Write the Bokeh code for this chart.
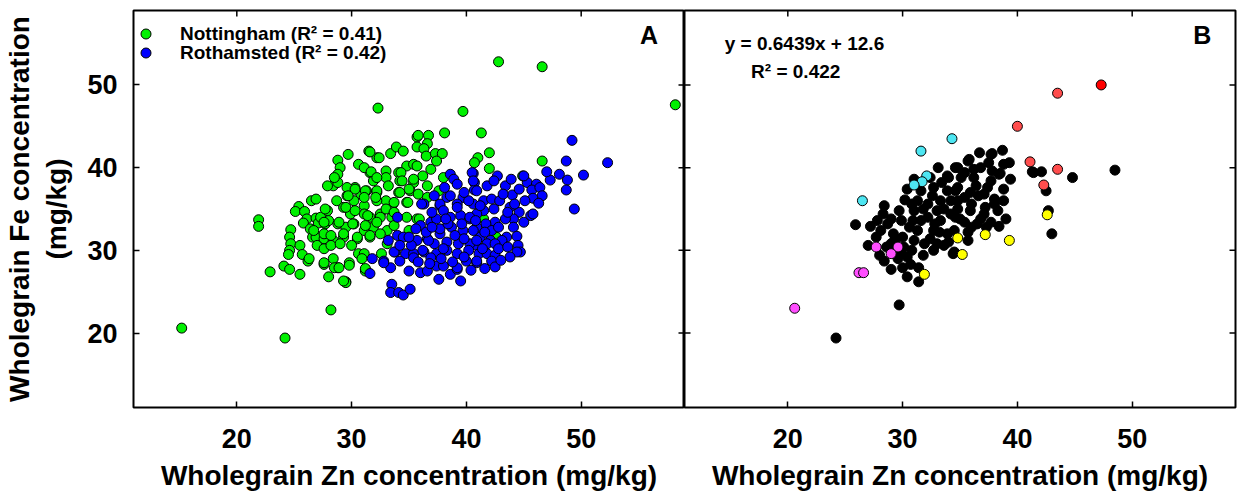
import math
from bokeh.plotting import figure
from bokeh.models import Range1d, FixedTicker, LinearAxis, Label, Legend, LegendItem
from bokeh.layouts import row
from bokeh.embed import file_html
from bokeh.resources import INLINE

FONT = "Liberation Sans"
TICKS = [20, 30, 40, 50]
X_MIN, X_MAX = 11, 59
Y_MIN, Y_MAX = 11, 59
X_LABEL = "Wholegrain Zn concentration (mg/kg)"
Y_LABEL = "Wholegrain Fe concentration\n(mg/kg)"

# ---------------- Panel A : Nottingham (green) ----------------
notts_zn = [15.2, 24.2, 28.2, 42.8, 46.6, 58.2, 32.3, 39.7, 38.1, 41.3, 42.0, 41.0, 40.7, 42.0, 46.6, 44.9, 41.5, 42.6,
            21.9, 21.9, 22.9, 24.1, 24.6, 25.5, 24.7, 24.6, 24.7, 24.6, 24.5, 25.5, 25.7, 26.2, 26.3, 27.6, 28.0, 25.4,
            25.1, 25.9, 26.1, 25.8, 26.5, 26.9, 26.9, 27.1, 26.4, 26.6, 26.9, 27.0, 27.6, 27.6, 27.9, 27.7, 28.4, 28.8,
            29.8, 29.5, 31.2, 29.7, 30.6, 31.5, 32.2, 33.4, 33.9, 34.5, 35.7, 35.7, 28.8, 29.0, 28.8, 28.4, 28.8, 30.3,
            30.8, 31.3, 31.6, 31.9, 32.2, 33.0, 33.0, 33.2, 34.1, 34.2, 34.8, 35.4, 35.1, 34.1, 35.4, 34.8, 33.6, 33.0,
            32.2, 31.1, 30.2, 29.6, 29.3, 29.9, 31.1, 31.6, 32.5, 33.5, 34.8, 35.7, 27.3, 28.0, 28.8, 29.5, 30.2, 31.1,
            31.9, 33.1, 26.7, 27.6, 28.4, 29.3, 30.5, 31.6, 35.8, 36.7, 36.6, 31.6, 36.3, 36.5, 37.3, 37.9, 32.4, 31.1,
            35.7, 36.2, 36.9, 37.4, 38.0, 37.6, 36.6, 27.9, 35.0, 35.8, 36.6, 35.9, 33.7, 35.0, 33.1, 30.6, 32.6, 27.6,
            28.5, 31.2, 31.7, 34.3, 28.5, 32.2, 34.4, 35.4, 29.6, 30.3, 31.2, 32.2, 34.2, 33.7, 34.9, 33.0, 32.1, 31.1,
            29.7, 28.7, 27.7, 29.5, 30.3, 31.4, 32.5, 33.7, 27.6, 28.9, 30.1, 31.2, 32.2, 28.2, 29.3, 30.5, 31.6, 32.5,
            28.2, 29.0, 30.0, 31.1, 28.9, 29.5, 31.2, 29.3, 29.8, 30.9]
notts_fe = [20.6, 19.4, 22.8, 52.8, 52.2, 47.6, 47.2, 46.8, 44.2, 44.2, 41.8, 41.2, 40.6, 39.9, 40.8, 39.0, 33.8, 31.6,
            33.7, 32.9, 27.4, 28.1, 27.7, 27.1, 32.5, 31.6, 30.8, 30.0, 29.5, 30.6, 29.5, 28.7, 29.0, 28.3, 26.8, 35.3,
            34.7, 34.7, 33.8, 33.3, 36.0, 36.2, 33.9, 33.3, 32.6, 31.6, 31.6, 30.6, 30.2, 31.4, 34.8, 33.2, 29.0, 27.9,
            28.5, 26.2, 27.7, 41.6, 40.4, 42.0, 41.2, 41.7, 42.5, 42.0, 43.7, 42.5, 40.9, 40.0, 39.2, 37.8, 38.2, 37.6,
            36.8, 37.2, 39.4, 38.4, 37.0, 39.6, 38.8, 37.8, 39.4, 38.4, 40.2, 40.4, 37.2, 37.0, 38.2, 35.8, 35.6, 36.0,
            36.0, 35.4, 36.0, 36.6, 35.2, 34.4, 34.4, 34.0, 34.4, 34.0, 34.0, 33.8, 34.0, 33.6, 33.2, 32.8, 33.2, 32.4,
            32.8, 32.4, 32.4, 32.0, 31.2, 31.6, 31.4, 31.6, 43.9, 43.9, 42.9, 41.9, 42.3, 41.4, 41.7, 41.7, 41.2, 40.0,
            40.2, 39.0, 39.8, 40.8, 38.8, 37.2, 37.8, 37.8, 37.4, 36.8, 36.4, 33.8, 33.0, 32.4, 30.8, 29.6, 29.6, 28.5,
            27.9, 27.5, 39.5, 39.4, 38.8, 38.8, 38.4, 38.6, 37.6, 37.4, 37.2, 37.2, 37.0, 35.8, 35.8, 35.0, 36.4, 36.4,
            36.6, 36.0, 35.0, 35.2, 34.8, 34.2, 34.0, 34.6, 33.4, 33.4, 33.2, 33.0, 33.4, 31.8, 32.0, 31.6, 31.8, 32.0,
            30.6, 30.8, 30.6, 29.6, 27.9, 26.1, 27.8, 26.3, 28.2, 29.0]

# ---------------- Panel A : Rothamsted (blue) ----------------
roth_zn = [49.2, 48.7, 52.3, 50.2, 48.1, 47.3, 48.8, 48.7, 49.4, 45.3, 46.1, 45.7, 46.4, 46.6, 45.8, 45.1, 46.3, 44.0,
           43.4, 42.7, 40.6, 40.7, 40.7, 41.5, 42.2, 42.9, 43.8, 42.4, 41.5, 40.6, 44.6, 45.6, 45.0, 44.1, 43.4, 42.5,
           41.7, 40.9, 44.1, 44.4, 43.5, 43.1, 42.2, 42.1, 41.2, 40.9, 41.8, 42.5, 44.5, 44.7, 44.4, 41.1, 41.8, 42.5,
           40.9, 42.2, 42.5, 45.8, 38.6, 38.9, 40.5, 40.6, 40.9, 38.1, 39.7, 38.3, 39.2, 40.2, 36.3, 37.7, 34.0, 36.9,
           37.4, 38.6, 39.5, 40.3, 40.9, 37.7, 38.7, 39.7, 40.6, 34.0, 34.5, 35.7, 36.6, 37.2, 38.3, 39.3, 40.3, 40.9,
           33.8, 34.7, 35.4, 36.3, 37.4, 38.3, 39.2, 40.0, 40.9, 31.8, 32.8, 33.4, 34.2, 35.0, 36.0, 36.6, 37.6, 37.4,
           38.6, 39.2, 39.5, 31.6, 33.5, 33.4, 34.1, 34.5, 35.1, 35.4, 36.9, 38.0, 39.2, 36.7, 37.7, 39.2, 40.3, 32.8,
           33.7, 36.1, 37.7, 36.0, 36.5, 37.0, 38.0, 38.4, 39.0, 39.8, 40.2, 41.4, 42.8, 43.6, 43.8, 43.0, 41.6, 40.4,
           39.8, 38.8, 37.8, 36.8, 35.8, 35.2, 35.0, 35.6, 37.0, 38.2, 39.6, 40.8, 41.6, 42.8, 43.6, 44.2, 41.2, 39.8,
           39.2, 41.8, 42.4, 43.2, 44.6, 43.9, 45.0, 47.0, 38.0, 36.2, 34.2, 33.2, 37.2, 38.6]
roth_fe = [43.3, 40.8, 40.6, 39.1, 39.2, 38.5, 38.5, 37.3, 35.0, 38.2, 38.0, 37.3, 37.6, 36.6, 36.3, 36.0, 35.7, 36.7,
           37.8, 39.0, 39.3, 38.2, 37.3, 36.0, 36.2, 36.0, 35.2, 35.0, 34.8, 35.6, 34.6, 34.2, 33.4, 33.8, 33.8, 33.4,
           33.2, 32.8, 32.8, 31.7, 31.6, 31.2, 32.4, 31.2, 31.6, 30.6, 30.8, 30.8, 30.6, 29.8, 29.8, 29.6, 29.6, 29.4,
           28.5, 28.7, 28.0, 34.4, 39.2, 38.6, 39.4, 38.4, 37.2, 37.6, 36.4, 36.4, 35.6, 36.0, 35.6, 35.4, 34.0, 33.4,
           33.8, 34.0, 34.2, 33.8, 34.4, 32.0, 32.8, 32.4, 32.4, 31.8, 31.6, 31.2, 31.4, 30.8, 31.0, 30.8, 30.8, 31.2,
           29.8, 29.6, 29.6, 29.8, 29.6, 30.0, 29.6, 28.7, 28.7, 29.0, 28.7, 27.9, 28.7, 27.5, 27.3, 27.5, 26.5, 28.1,
           27.1, 27.7, 26.3, 27.2, 25.9, 24.9, 24.9, 24.6, 25.3, 29.1, 29.1, 28.1, 27.9, 31.2, 32.6, 35.2, 34.0, 28.5,
           29.8, 35.6, 35.6, 33.0, 32.2, 34.6, 34.8, 33.2, 31.8, 31.4, 30.0, 30.2, 30.2, 30.4, 29.2, 28.8, 27.8, 27.6,
           29.2, 28.6, 29.0, 28.4, 28.6, 30.6, 31.6, 32.6, 32.8, 33.8, 33.2, 33.6, 32.2, 32.8, 34.6, 35.6, 35.4, 37.0,
           38.0, 37.8, 38.4, 36.8, 37.4, 38.6, 39.0, 39.5, 30.2, 30.0, 30.6, 31.2, 36.6, 36.6]

# ---------------- Panel B ----------------
blk_zn = [48.5, 44.8, 41.4, 42.1, 41.3, 42.5, 42.7, 43.0, 34.4, 35.7, 25.9, 27.2, 28.3, 30.2, 33.1, 33.9, 36.7, 37.7,
          38.7, 39.3, 38.5, 39.4, 35.7, 34.6, 38.3, 39.0, 38.4, 37.8, 35.8, 37.5, 38.4, 36.8, 34.8, 35.1, 36.2, 37.7,
          35.9, 37.1, 38.0, 34.8, 35.9, 37.1, 34.6, 35.4, 36.5, 37.7, 34.5, 35.7, 37.3, 38.8, 27.7, 28.1, 28.7, 28.0,
          28.4, 29.0, 30.0, 30.7, 31.4, 31.4, 29.7, 24.2, 29.9, 30.4, 30.1, 29.3, 29.9, 29.7, 31.0, 30.9, 31.3, 31.0,
          31.9, 32.7, 33.6, 34.5, 32.2, 33.3, 32.2, 33.3, 34.2, 32.7, 33.9, 31.6, 32.7, 33.9, 34.8, 31.3, 33.0, 30.8,
          31.8, 32.6, 33.4, 34.0, 34.6, 35.4, 36.0, 36.6, 37.4, 36.2, 35.4, 34.2, 33.6, 32.8, 31.6, 30.6, 30.0, 29.2,
          28.6, 30.8, 31.8, 32.4, 33.2, 34.0, 35.0, 36.0, 36.8, 37.2, 38.0, 38.8, 37.8, 38.8, 36.4, 34.8, 33.0, 30.4,
          31.0, 32.4, 29.0, 28.4, 29.6, 27.0, 27.8, 30.4, 29.0]
blk_fe = [39.7, 38.8, 39.4, 39.5, 39.5, 37.2, 34.8, 32.0, 29.6, 31.2, 33.1, 32.9, 34.4, 36.1, 40.0, 39.0, 41.8, 41.6,
          42.1, 40.6, 39.3, 38.6, 40.8, 40.0, 34.8, 33.8, 32.9, 41.7, 41.0, 40.6, 39.2, 40.0, 40.0, 38.8, 38.8, 38.4,
          37.0, 36.8, 35.6, 36.0, 34.8, 34.4, 34.0, 33.4, 33.2, 33.4, 32.4, 32.2, 32.8, 37.4, 31.6, 32.4, 33.2, 29.4,
          28.7, 27.7, 27.9, 28.3, 27.9, 26.2, 23.4, 19.4, 29.6, 29.2, 30.4, 31.2, 33.6, 34.8, 34.8, 33.6, 32.4, 31.2,
          30.8, 30.0, 30.6, 29.8, 35.6, 36.0, 34.0, 33.6, 34.4, 32.4, 32.0, 37.2, 37.6, 37.2, 37.6, 36.0, 34.8, 35.6,
          35.0, 36.6, 38.2, 38.8, 37.2, 36.4, 35.6, 36.6, 37.6, 39.8, 39.4, 36.0, 35.0, 33.2, 33.6, 32.8, 31.6, 32.0,
          30.4, 30.0, 29.4, 31.4, 32.2, 31.0, 33.8, 32.8, 33.8, 35.2, 36.2, 36.0, 39.6, 40.4, 37.8, 35.0, 30.8, 37.4,
          38.6, 38.8, 33.8, 35.4, 29.0, 30.6, 33.6, 26.8, 30.8]
cyan_zn = [34.3, 31.6, 32.1, 31.7, 31.0, 26.5]
cyan_fe = [43.5, 42.0, 39.0, 38.3, 37.9, 36.0]
mag_zn = [27.7, 29.6, 29.0, 26.2, 26.6, 20.6]
mag_fe = [30.4, 30.4, 29.6, 27.3, 27.3, 23.0]
yel_zn = [42.6, 39.3, 37.2, 34.8, 35.2, 31.9]
yel_fe = [34.3, 31.2, 31.9, 31.5, 29.5, 27.1]
red_zn = [43.5, 40.0, 41.1, 43.5, 42.3]
red_fe = [49.0, 45.0, 40.7, 39.8, 37.9]
top_red_zn = [47.3]
top_red_fe = [50.0]

FRAME_H = 397            # frame height in px
TOP_B = 10               # top border in px
FIG_H = 500
yr = Range1d(Y_MIN, Y_MAX)
N = len(TICKS)


def style_axis(ax, tick_standoff):
    ax.ticker = FixedTicker(ticks=TICKS)
    ax.major_tick_in = 6
    ax.major_tick_out = 0
    ax.minor_tick_line_color = None
    ax.axis_line_color = None
    ax.major_tick_line_color = "black"
    ax.major_tick_line_width = 1.5
    ax.major_label_text_font = FONT
    ax.major_label_text_font_size = "27px"
    ax.major_label_text_font_style = "bold"
    ax.major_label_text_color = "black"
    ax.major_label_standoff = tick_standoff
    ax.axis_label_text_font = FONT
    ax.axis_label_text_font_size = "28px"
    ax.axis_label_text_font_style = "bold"
    ax.axis_label_text_color = "black"


def edge_ticks(p, top=True, left=False, right=False):
    # inward tick marks on the frame edges without labels (half of each dash is clipped by the frame)
    kw = dict(marker="dash", size=12, line_color="black", line_width=1.5)
    if top:
        p.scatter(TICKS, [Y_MAX] * N, angle=math.pi / 2, **kw)
    if left:
        p.scatter([X_MIN] * N, TICKS, **kw)
    if right:
        p.scatter([X_MAX] * N, TICKS, **kw)


def make_fig(width, left_b, right_b, y_axis):
    p = figure(width=width, height=FIG_H, x_range=Range1d(X_MIN, X_MAX), y_range=yr,
               output_backend="svg", toolbar_location=None, title=None,
               x_axis_location=None, y_axis_location=None,
               min_border_left=left_b, min_border_right=right_b,
               min_border_top=TOP_B, min_border_bottom=FIG_H - TOP_B - FRAME_H)
    p.grid.visible = False
    p.outline_line_color = "black"
    p.outline_line_width = 2
    p.background_fill_color = "white"
    p.border_fill_color = "white"

    below = LinearAxis(axis_label=X_LABEL)
    style_axis(below, 21)
    below.axis_label_standoff = 9
    p.add_layout(below, "below")

    if y_axis:
        left = LinearAxis(axis_label=Y_LABEL)
        style_axis(left, 16)
        left.axis_label_standoff = 12
        p.add_layout(left, "left")
    return p


pA = make_fig(684, 133, 0, True)
pB = make_fig(555, 0, 4, False)

g = pA.scatter(notts_zn, notts_fe, size=10, fill_color="#00F000", line_color="black", line_width=1)
b = pA.scatter(roth_zn, roth_fe, size=10, fill_color="#0000FF", line_color="black", line_width=1)
edge_ticks(pA, top=True, right=True)

leg_kw = dict(glyph_width=25, glyph_height=25, label_height=19, label_standoff=22, padding=2,
              spacing=0, margin=0, label_text_font=FONT, label_text_font_size="19px",
              label_text_font_style="bold", label_text_color="black",
              border_line_color=None, background_fill_alpha=0)
pA.add_layout(Legend(items=[LegendItem(label="Nottingham (R² = 0.41)", renderers=[g])],
                     location=(0, 361), **leg_kw))
pA.add_layout(Legend(items=[LegendItem(label="Rothamsted (R² = 0.42)", renderers=[b])],
                     location=(0, 342), **leg_kw))

pA.add_layout(Label(x=55.9, y=56.0, text="A", text_font=FONT, text_font_size="25px", text_color="black",
                    text_font_style="bold", text_align="center", text_baseline="alphabetic"))

pB.scatter(blk_zn, blk_fe, size=10, fill_color="black", line_color="black", line_width=1)
pB.scatter(cyan_zn, cyan_fe, size=10, fill_color="#4DE6F2", line_color="black", line_width=1)
pB.scatter(mag_zn, mag_fe, size=10, fill_color="#FF4DFF", line_color="black", line_width=1)
pB.scatter(yel_zn, yel_fe, size=10, fill_color="#FFFF00", line_color="black", line_width=1)
pB.scatter(red_zn, red_fe, size=10, fill_color="#FF4D4D", line_color="black", line_width=1)
pB.scatter(top_red_zn, top_red_fe, size=10, fill_color="#FF0000", line_color="black", line_width=1)
edge_ticks(pB, top=True, left=True, right=True)

pB.add_layout(Label(x=56.1, y=56.0, text="B", text_font=FONT, text_font_size="25px", text_color="black",
                    text_font_style="bold", text_align="center", text_baseline="alphabetic"))
pB.add_layout(Label(x=14.5, y=55.0, text="y = 0.6439x + 12.6", text_font=FONT, text_font_size="19px",
                    text_color="black", text_font_style="bold", text_align="left", text_baseline="alphabetic"))
pB.add_layout(Label(x=16.8, y=51.6, text="R² = 0.422", text_font=FONT, text_font_size="19px",
                    text_color="black", text_font_style="bold", text_align="left", text_baseline="alphabetic"))

layout = row(pA, pB)
open("out.html", "w").write(file_html(layout, INLINE))
